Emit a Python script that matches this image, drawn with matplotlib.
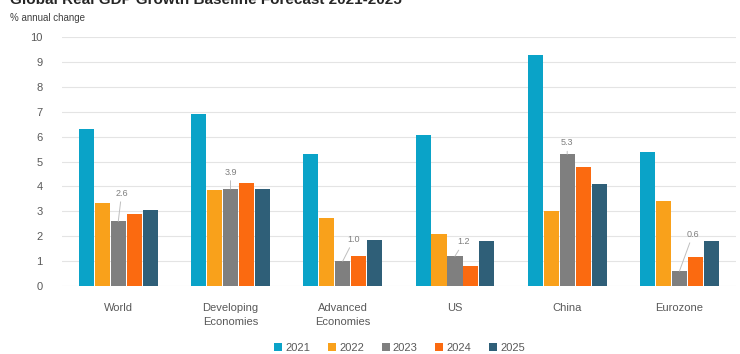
import matplotlib.pyplot as plt
import numpy as np

plt.rcParams['font.family'] = ['Liberation Sans', 'DejaVu Sans']

regions = ['World', 'Developing\nEconomies', 'Advanced\nEconomies', 'US', 'China', 'Eurozone']
years = ['2021', '2022', '2023', '2024', '2025']
g2021 = [6.3, 6.9, 5.3, 6.05, 9.3, 5.4]
g2022 = [3.35, 3.85, 2.75, 2.1, 3.0, 3.4]
g2023 = [2.6, 3.9, 1.0, 1.2, 5.3, 0.6]
g2024 = [2.9, 4.15, 1.2, 0.8, 4.8, 1.15]
g2025 = [3.05, 3.9, 1.85, 1.8, 4.1, 1.8]
labels_2023 = ['2.6', '3.9', '1.0', '1.2', '5.3', '0.6']

colors = ['#0aa3c8', '#f9a11b', '#7f7f7f', '#fb6a10', '#2f5f78']
series = [g2021, g2022, g2023, g2024, g2025]

fig = plt.figure(figsize=(7.4, 3.54), dpi=100)
ax = fig.add_axes([0.084, 0.192, 0.91, 0.703])

x = np.arange(len(regions))
w = 0.142
for i, (vals, c, yr) in enumerate(zip(series, colors, years)):
    ax.bar(x + (i - 2) * w, vals, w * 0.95, color=c, label=yr, zorder=3)

# callout labels on 2023 bars
offs = [(0.03, 0.95), (0.0, 0.5), (0.1, 0.7), (0.08, 0.4), (0.0, 0.28), (0.12, 1.3)]
for xi, v, lab, (dx, dy) in zip(x, g2023, labels_2023, offs):
    ax.annotate(lab, xy=(xi, v), xytext=(xi + dx, v + dy), ha='center', va='bottom',
                fontsize=6.5, color='#7f7f7f',
                arrowprops=dict(arrowstyle='-', color='#bfbfbf', lw=0.7, shrinkA=1, shrinkB=0))

ax.set_xlim(-0.5, len(regions) - 0.5)
ax.set_ylim(0, 10)
ax.set_yticks(range(0, 11))
ax.set_xticks(x)
ax.set_xticklabels(regions, fontsize=8, color='#595959', linespacing=1.5)
ax.tick_params(axis='y', labelsize=8, labelcolor='#595959', length=0, pad=14)
ax.tick_params(axis='x', length=0, pad=12)
ax.grid(axis='y', color='#e4e4e4', lw=0.8, zorder=0)
for s in ax.spines.values():
    s.set_visible(False)

fig.text(0.013, 0.99, 'Global Real GDP Growth Baseline Forecast 2021-2025', fontsize=11,
         fontweight='bold', color='#262626', va='baseline')
fig.text(0.013, 0.94, '% annual change', fontsize=7, color='#404040', va='baseline')

fig.legend(loc='lower center', bbox_to_anchor=(0.54, -0.025), ncol=5, frameon=False,
           fontsize=8, handlelength=0.7, handleheight=0.7, handletextpad=0.3,
           columnspacing=1.6, labelcolor='#595959')

fig.savefig('out.png', dpi=100)
